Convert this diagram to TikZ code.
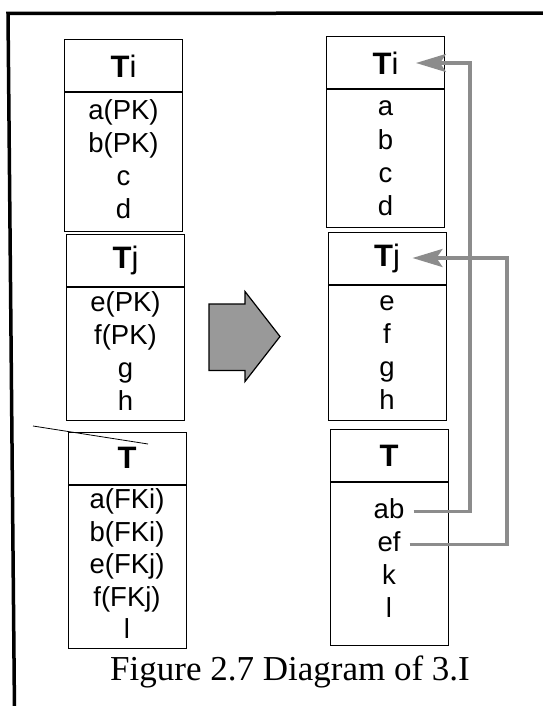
\documentclass[tikz,border=0pt]{standalone}
\usepackage{fontspec}
\setmainfont{Liberation Serif}
\setsansfont{Liberation Sans}
\usetikzlibrary{arrows.meta,positioning}

\begin{document}
\begin{tikzpicture}[x=1pt,y=-1pt,font=\sffamily,line join=miter,
  tab/.style={draw,line width=1pt,minimum width=118pt,inner sep=0pt},
  hdr/.style={tab,minimum height=52pt,font=\sffamily\fontsize{31}{33}\selectfont},
  bdy/.style={tab},
  row/.style={inner sep=0pt,text height=20pt,text depth=6pt,font=\sffamily\fontsize{27.5}{30}\selectfont},
  link/.style={draw=black!45,line width=3.2pt,-{Stealth[length=30pt,width=18pt,inset=6pt]}}]
\useasboundingbox (0,0) rectangle (542,706);
% frame of the scanned page
\draw[line width=3.5pt] (14.5,712) -- (8,13.5) -- (548,13);
% source tables
\node[hdr] (li) at (123.5,66) {\textbf{T}i};
\node[bdy,minimum height=138pt,below=0pt of li] (lib) {};
\foreach \t [count=\k] in {a(PK),b(PK),c,d}
  \node[row] at ([yshift={(2.5-\k)*33pt}]lib.center) {\t};
\node[hdr] (lj) at (125.5,260.5) {\textbf{T}j};
\node[bdy,minimum height=133pt,below=0pt of lj] (ljb) {};
\foreach \t [count=\k] in {e(PK),f(PK),g,h}
  \node[row] at ([yshift={(2.5-\k)*33pt}]ljb.center) {\t};
\node[hdr] (lt) at (127,458) {\textbf{T}};
\node[bdy,minimum height=163pt,below=0pt of lt] (ltb) {};
\foreach \t [count=\k] in {a(FKi),b(FKi),e(FKj),f(FKj),l}
  \node[row] at ([yshift={(3-\k)*32.5pt}]ltb.center) {\t};
\draw[line width=0.8pt] (33,426) -- (148,444);
% big arrow
\filldraw[fill=black!40,draw=black,line width=1.2pt]
  (209,304) -- (245,304) -- (245,291.5) -- (280,336.5) -- (245,381.5)
  -- (245,370.5) -- (209,370.5) -- cycle;
% result tables
\node[hdr] (ri) at (385.5,63) {\textbf{T}i};
\node[bdy,minimum height=137pt,below=0pt of ri] (rib) {};
\foreach \t [count=\k] in {a,b,c,d}
  \node[row] at ([yshift={(2.5-\k)*33pt}]rib.center) {\t};
\node[hdr] (rj) at (387,258) {\textbf{T}j};
\node[bdy,minimum height=135pt,below=0pt of rj] (rjb) {};
\foreach \t [count=\k] in {e,f,g,h}
  \node[row] at ([yshift={(2.5-\k)*33pt}]rjb.center) {\t};
\node[hdr] (rt) at (389,455.5) {\textbf{T}};
\node[bdy,minimum height=163pt,below=0pt of rt] (rtb) {};
\foreach \t [count=\k] in {ab,ef,k,l}
  \node[row] (\t) at ([yshift={(2.5-\k)*33pt+3pt}]rtb.center) {\t};
% foreign key links
\coordinate (busi) at (470,0);
\coordinate (busj) at (507,0);
\coordinate (tipi) at ([xshift=-29pt]ri.east);
\coordinate (tipj) at ([xshift=-34pt]rj.east);
\draw[link] ([xshift=9pt]ab.east) -- (ab.east -| busi) -- (busi |- ri.east) -- (tipi);
\draw[link] ([xshift=9pt]ef.east) -- (ef.east -| busj) -- (busj |- rj.east) -- (tipj);
% caption
\node[font=\rmfamily\fontsize{35}{38}\selectfont,inner sep=0pt,anchor=base] (cap) at (290,680) {Figure 2.7 Diagram of 3.I};
\end{tikzpicture}
\end{document}
